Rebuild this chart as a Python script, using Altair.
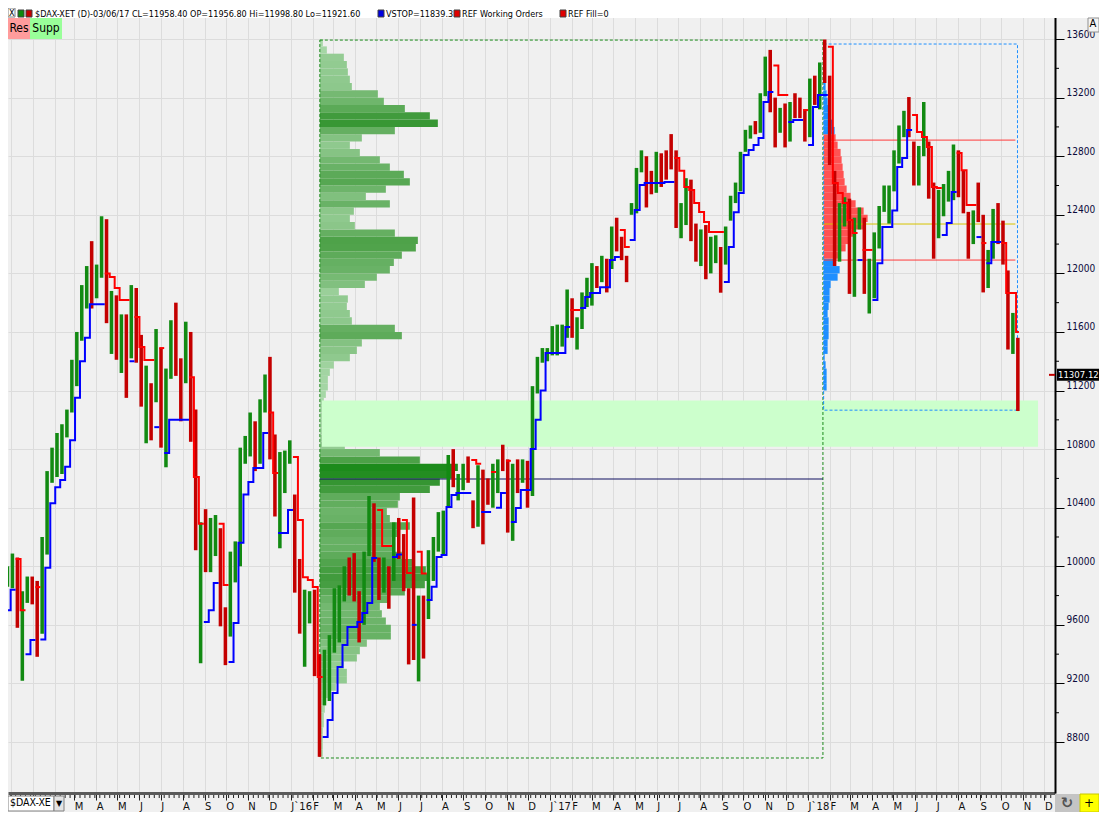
import altair as alt
import pandas as pd

# ---------------- weekly DAX bars (one entry per week, Friday dates) ----------------
FIRST_WEEK = "2014-11-28"
FIRST_OPEN = 9950
HIGH = [
    10000, 10087, 10060, 9830, 9930, 9930, 9900, 10200, 10650, 10810,
    10910, 10970, 11070, 11410, 11600, 11920, 12050, 12220, 12060, 12390,
    12370, 11880, 11850, 11720, 11720, 11920, 11900, 11580, 11370, 11250,
    11620, 11490, 11350, 11680, 11800, 11420, 11670, 11600, 11070, 10300,
    10390, 10330, 10350, 10260, 9720, 10100, 10170, 10810, 10890, 11050,
    10990, 11140, 11310, 11430, 10900, 10780, 10790, 10860,
    10490, 10050, 9840, 9830, 9840, 9400, 9430, 9530, 9850, 9870,
    10000, 10060, 10090, 9830, 10100, 10480, 10430, 10060, 10060, 10000,
    10300, 10330, 10220, 9850, 10470, 9800, 9800, 10110, 10200, 10370,
    10380, 10760, 10800, 10630, 10700, 10750, 10450, 10690, 10660, 10600,
    10700, 10730, 10830, 10730, 10700, 10730, 10730, 10720, 11230, 11430,
    11490, 11490,
    11640, 11650, 11650, 11890, 11830, 11700, 11870, 11970, 12070, 12050,
    12120, 12100, 12320, 12380, 12250, 12120, 12480, 12720, 12840, 12800,
    12700, 12830, 12820, 12840, 12951, 12840, 12480, 12650, 12640, 12340,
    12300, 12330, 12250, 12260, 12180, 12320, 12530, 12620, 12830, 12980,
    13010, 13040, 13230, 13480, 13526, 13200, 13130, 13160, 13170, 13230,
    13200, 13120,
    13330, 13350, 13440, 13597, 13350, 12700, 12480, 12520, 12510, 12380,
    12450, 12380, 12100, 12280, 12460, 12600, 12600, 12840, 13010, 13110,
    13204, 12900, 12870, 13170, 12900, 12620, 12570, 12610, 12700, 12880,
    12840, 12700, 12420, 12430, 12620, 12400, 12160, 12440, 12480, 12360,
    12020, 11730, 11560,
]
LOW = [
    9860, 9850, 9580, 9219, 9750, 9740, 9382, 9540, 10080, 10570,
    10610, 10630, 10880, 11050, 11230, 11540, 11760, 11760, 11830, 11970,
    11660, 11450, 11410, 11320, 11150, 11420, 11390, 11090, 10840, 10860,
    11120, 10810, 10676, 11280, 11300, 10990, 11250, 10850, 10110, 9338,
    9960, 9960, 10070, 9590, 9325, 9520, 9890, 10000, 10700, 10750,
    10650, 10700, 11050, 10730, 10340, 10123, 10500, 10700,
    9820, 9540, 9314, 9610, 9250, 8699, 9050, 9080, 9410, 9480,
    9760, 9800, 9760, 9480, 9600, 10070, 10030, 9770, 9820, 9710,
    9900, 10050, 9830, 9330, 9360, 9214, 9370, 9640, 9900, 10100,
    10080, 10400, 10540, 10450, 10520, 10570, 10260, 10270, 10150, 10420,
    10400, 10500, 10650, 10230, 10174, 10500, 10570, 10400, 10480, 11180,
    11390, 11400,
    11440, 11440, 11500, 11560, 11560, 11480, 11620, 11770, 11780, 11900,
    11940, 11870, 12030, 12150, 12090, 11940, 12400, 12410, 12690, 12450,
    12540, 12550, 12590, 12640, 12710, 12310, 12240, 12330, 12220, 12080,
    12050, 11960, 12000, 12070, 11868, 12060, 12360, 12480, 12560, 12830,
    12920, 12950, 12960, 13210, 13100, 12860, 12960, 12860, 12900, 13060,
    13060, 12900,
    12930, 13150, 13120, 13300, 12740, 12050, 12080, 12320, 11860, 11840,
    12300, 11860, 11726, 11830, 12170, 12420, 12340, 12560, 12750, 12930,
    12930, 12600, 12600, 12800, 12510, 12100, 12240, 12390, 12490, 12500,
    12520, 12410, 12100, 12200, 12350, 11870, 11900, 12100, 12200, 12060,
    11480, 11450, 11060,
]
CLOSE = [
    9980, 10087, 9594, 9787, 9922, 9765, 9648, 10167, 10649, 10694,
    10846, 10963, 11050, 11401, 11550, 11901, 12039, 11868, 12001, 12375,
    11688, 11811, 11454, 11709, 11447, 11815, 11413, 11197, 11197, 11040,
    11492, 11058, 11315, 11673, 11347, 11308, 11490, 10985, 10124, 10298,
    10038, 10123, 10229, 9688, 9553, 10096, 10104, 10795, 10850, 10988,
    10708, 11119, 11293, 10752, 10340, 10608, 10727, 10743,
    9849, 9545, 9764, 9798, 9286, 8967, 9388, 9513, 9824, 9831,
    9950, 9851, 9794, 9622, 10051, 10373, 10039, 9870, 9952, 9916,
    10287, 10103, 9834, 9631, 9557, 9776, 9629, 10066, 10147, 10337,
    10367, 10713, 10544, 10587, 10684, 10573, 10276, 10627, 10511, 10490,
    10580, 10711, 10696, 10259, 10668, 10664, 10700, 10513, 11203, 11404,
    11450, 11481,
    11599, 11629, 11630, 11814, 11651, 11666, 11757, 11804, 12027, 11963,
    12095, 12064, 12313, 12225, 12109, 12049, 12438, 12717, 12770, 12638,
    12602, 12823, 12815, 12752, 12733, 12325, 12389, 12631, 12240, 12162,
    12297, 12014, 12165, 12168, 12142, 12304, 12519, 12592, 12829, 12956,
    12992, 12991, 13218, 13479, 13127, 12994, 13060, 12862, 13153, 13104,
    13073, 12918,
    13320, 13245, 13434, 13340, 12785, 12107, 12452, 12483, 11914, 12346,
    12390, 11886, 12097, 12241, 12442, 12540, 12581, 12820, 13001, 13078,
    12938, 12724, 12767, 13011, 12580, 12306, 12496, 12541, 12562, 12860,
    12616, 12425, 12211, 12395, 12364, 11960, 12124, 12431, 12247, 12112,
    11524, 11554, 11307,
]
VSTOP = [
    9700, 9840, 10050, 9700, 9400, 9496, 9858, 9500, 9990, 10430,
    10540, 10590, 10680, 10860, 11150, 11400, 11560, 11790, 11790, 11790,
    12000, 11975, 11900, 11818, 11818, 11400, 11702, 11497, 11408, 11408,
    10950, 11490, 10773, 11000, 11000, 11000, 11000, 11290, 10610, 10290,
    9620, 9700, 9886, 10290, 9872, 9346, 9613, 10160, 10490, 10575,
    10671, 10671, 10910, 11050, 10637, 10227, 10227, 10384, 10746, 10316,
    9926, 9906, 9858, 9244, 8834, 8950, 9134, 9312, 9462, 9585,
    9585, 9619, 9681, 9749, 10057, 10384, 10139, 10139, 10064, 10080,
    10316, 9954, 9600, 10100, 9950, 9770, 9860, 10064, 10077, 10405,
    10487, 10500, 10500, 10500, 10725, 10700, 10370, 10371, 10644, 10400,
    10500, 10720, 10302, 10398, 10521, 10521, 10800, 11000, 11200, 11456,
    11456, 11456, 11456, 11634, 11750, 11750, 11763, 11838, 11866, 11866,
    11906, 11906, 12091, 12112, 12296, 12180, 12228, 12432, 12603, 12617,
    12617, 12617, 12617, 12624, 12624, 12787, 12700, 12590, 12570, 12480,
    12419, 12350, 12282, 12282, 12282, 11941, 12180, 12418, 12549, 12808,
    12842, 12876, 12924, 13170, 13238, 13420, 13218, 13218, 13033, 13047,
    13047, 13115, 12876, 13136, 13218, 13218, 13547, 12617, 12548, 12480,
    12364, 12275, 12091, 12160, 12160, 11818, 12070, 12316, 12316, 12430,
    12726, 12787, 12979, 13081, 12965, 12931, 12863, 12590, 12583, 12262,
    12344, 12556, 12822, 12705, 12467, 12467, 12248, 12207, 12070, 12214,
    12214, 12207, 11866, 11866, 11600,
]
# U = stop below price (blue), D = stop above price (red)
VSTOP_TREND = ("UU DD UU D UUUUUUUUUUUUU DDDDD U DDDD U D UUUUU DDD UUU DD UUUUUUUU DD UUU "
               "DDDDDD UUUUUUUUUUU DDD UU DD U DD UUUUUUUUU DD UU D UU D UUUUUUUUUUUU DD "
               "UUUUUUUU DD UUUUUUUUU DDDDDDDDDD UUUUUUUUUU DDD UUU D UUUU DDDDDD U DD "
               "UUUUUUUU DDDDDD UUU DDDD U D UUU DDDD")

# ---------------- volume profiles (relative volume per 50-point price bin) ----------------
PROFILE_BIN = 50
GREEN_BASE = 8700
GREEN_VOL = [
    3, 3, 3, 3, 4, 4, 5, 5, 8, 16,
    27, 27, 24, 37, 40, 47, 71, 71, 66, 62,
    60, 70, 85, 105, 110, 106, 95, 82, 74, 72,
    80, 90, 70, 67, 78, 80, 110, 120, 134, 138,
    100, 60, 25, 15, 6, 4, 4, 4, 4, 6,
    8, 8, 10, 14, 30, 37, 42, 82, 75, 32,
    30, 27, 28, 19, 45, 57, 70, 74, 82, 96,
    98, 75, 35, 30, 34, 70, 46, 66, 90, 84,
    70, 60, 40, 30, 42, 75, 118, 110, 85, 64,
    58, 32, 30, 28, 27, 24, 7, 3,
]
RIGHT_BASE = 11200
RIGHT_VOL = [
    3, 3, 3, 2, 1, 4, 4, 5, 5, 5,
    4, 5, 6, 6, 7, 14, 16, 12, 16, 22,
    27, 32, 40, 44, 40, 32, 27, 23, 21, 20,
    19, 18, 17, 14, 12, 11, 9, 7, 5, 4,
    3, 2, 2, 1,
]

# ---------------- reference levels / zones ----------------
VA_HIGH, VA_LOW, POC_RIGHT = 12910, 12091, 12337
POC_LEFT = 10596
ZONE_LOW, ZONE_HIGH = 10817, 11132
BOX1_START, BOX1_END, BOX1_LOW, BOX1_HIGH = "2016-02-11", "2018-01-22", 8691, 13593
BOX2_START, BOX2_END, BOX2_LOW, BOX2_HIGH = "2018-01-23", "2018-10-24", 11066, 13566
ZONE_START, ZONE_END = "2016-02-14", "2018-11-22"
LINES_END = "2018-10-21"
LAST_PRICE = 11307.12
Y_TICKS = [8800, 9200, 9600, 10000, 10400, 10800, 11200, 11600, 12000, 12400, 12800, 13200, 13600]
Y_MINOR = [9000, 9400, 9800, 10200, 10600, 11000, 11400, 11800, 12200, 12600, 13000, 13400]

# ---------------- layout ----------------
W, H = 1047, 785
X0 = pd.Timestamp("2014-11-27 06:00")
X1 = pd.Timestamp("2018-12-16 00:00")
X_SCALE = alt.Scale(domain=[alt.DateTime(year=2014, month=11, date=27, hours=6),
                            alt.DateTime(year=2018, month=12, date=16)])
Y_SCALE = alt.Scale(domain=[8452, 13812], nice=False, zero=False)
GREEN, RED = "#128a12", "#c40000"


def px(ts):
    return (pd.Timestamp(ts) - X0) / (X1 - X0) * W


n = min(len(HIGH), len(LOW), len(CLOSE), len(VSTOP))
fridays = pd.date_range(FIRST_WEEK, periods=n, freq="W-FRI")
opens = [FIRST_OPEN] + CLOSE[: n - 1]
bar_df = pd.DataFrame({
    "start": fridays - pd.Timedelta(days=4),
    "end": fridays + pd.Timedelta(days=1),
    "high": HIGH[:n], "low": LOW[:n],
    "dir": ["up" if c >= o else "down" for c, o in zip(CLOSE[:n], opens)],
})

trend = list(VSTOP_TREND.replace(" ", ""))
trend = (trend + [trend[-1]] * n)[:n]
rows, seg = [], 0
for i in range(n):
    if i > 0 and trend[i] != trend[i - 1]:
        seg += 1
    mon = fridays[i] - pd.Timedelta(days=4)
    rows.append({"t": mon, "v": VSTOP[i], "trend": trend[i], "seg": seg})
    if i == n - 1 or trend[i + 1] != trend[i]:
        end = mon + pd.Timedelta(days=7 if i < n - 1 else 4)
        rows.append({"t": end, "v": VSTOP[i], "trend": trend[i], "seg": seg})
vstop_df = pd.DataFrame(rows)

gdf = pd.DataFrame({
    "plo": [GREEN_BASE + i * PROFILE_BIN for i in range(len(GREEN_VOL))],
    "phi": [GREEN_BASE + (i + 1) * PROFILE_BIN for i in range(len(GREEN_VOL))],
    "vol": GREEN_VOL, "base": 0,
})
rdf = pd.DataFrame({
    "plo": [RIGHT_BASE + i * PROFILE_BIN for i in range(len(RIGHT_VOL))],
    "phi": [RIGHT_BASE + (i + 1) * PROFILE_BIN for i in range(len(RIGHT_VOL))],
    "vol": RIGHT_VOL, "base": 0,
})
rdf["area"] = ["in" if VA_LOW <= p < VA_HIGH else "out" for p in rdf["plo"]]

ga = px(BOX1_START)
ra = px(BOX2_START)

x_axis = alt.Axis(
    orient="bottom", tickCount={"interval": "month", "step": 1},
    labelExpr="datum.value < datetime(2015, 1, 15) ? '' : (month(datum.value) == 0 ? 'J`' + "
              "timeFormat(datum.value, '%y') : substring(timeFormat(datum.value, '%b'), 0, 1))",
    grid=True, gridColor="#dcdcdc", gridWidth=1,
    domainColor="#5a5a5a", domainWidth=3, tickColor="#222222", tickSize=7,
    labelFont="DejaVu Sans", labelFontSize=10, labelColor="#111111",
    labelAlign="left", labelPadding=1, labelOverlap=False, labelFlush=False,
    labelBound=False, title=None, zindex=0,
)
y_axis = alt.Axis(
    orient="right", values=Y_TICKS, format="d", grid=True, gridColor="#dcdcdc", gridWidth=1,
    domainColor="#000000", domainWidth=2, tickColor="#000000", tickSize=9,
    labelPadding=2, labelFont="DejaVu Sans Condensed", labelFontSize=10, labelColor="#0a0a3a",
    labelBaseline="bottom", labelOverlap=False, title=None, zindex=0,
)

# ---------------- layers ----------------
axes_layer = alt.Chart(pd.DataFrame({"t": [BOX1_START], "p": [POC_LEFT]})).mark_point(opacity=0).encode(
    x=alt.X("t:T", scale=X_SCALE, axis=x_axis),
    y=alt.Y("p:Q", scale=Y_SCALE, axis=y_axis))

green_profile = alt.Chart(gdf).mark_rect(clip=True).encode(
    x=alt.X("base:Q", scale=alt.Scale(domain=[-ga, W - ga], nice=False, zero=False), axis=None),
    x2="vol:Q",
    y=alt.Y("plo:Q", scale=Y_SCALE, axis=None), y2="phi:Q",
    color=alt.Color("vol:Q", scale=alt.Scale(domain=[0, 140], range=["#acdaac", "#188a18"]), legend=None),
)

single = pd.DataFrame({"a": [0]})

zone = alt.Chart(pd.DataFrame({"s": [ZONE_START], "e": [ZONE_END], "lo": [ZONE_LOW], "hi": [ZONE_HIGH]})).mark_rect(
    color="#ccffcc").encode(
    x=alt.X("s:T", scale=X_SCALE, axis=None), x2="e:T",
    y=alt.Y("lo:Q", scale=Y_SCALE, axis=None), y2="hi:Q")

box1 = alt.Chart(pd.DataFrame({"s": [BOX1_START], "e": [BOX1_END], "lo": [BOX1_LOW], "hi": [BOX1_HIGH]})).mark_rect(
    fillOpacity=0, stroke="#1a8a1a", strokeWidth=1, strokeDash=[3, 2]).encode(
    x=alt.X("s:T", scale=X_SCALE, axis=None), x2="e:T",
    y=alt.Y("lo:Q", scale=Y_SCALE, axis=None), y2="hi:Q")

poc_left = alt.Chart(pd.DataFrame({"s": [BOX1_START], "e": [BOX1_END], "p": [POC_LEFT]})).mark_rule(
    color="#101060", strokeWidth=1).encode(
    x=alt.X("s:T", scale=X_SCALE, axis=None), x2="e:T", y=alt.Y("p:Q", scale=Y_SCALE, axis=None))

right_profile = alt.Chart(rdf).mark_rect(clip=True).encode(
    x=alt.X("base:Q", scale=alt.Scale(domain=[-ra, W - ra], nice=False, zero=False), axis=None),
    x2="vol:Q",
    y=alt.Y("plo:Q", scale=Y_SCALE, axis=None), y2="phi:Q",
    color=alt.Color("area:N", scale=alt.Scale(domain=["in", "out"], range=["#ff5252", "#1e8fff"]), legend=None),
)

lv = pd.DataFrame({"s": [BOX2_START] * 3, "e": [LINES_END] * 3, "p": [VA_HIGH, VA_LOW, POC_RIGHT],
                   "k": ["hi", "lo", "poc"]})
level_lines = alt.Chart(lv).mark_rule(strokeWidth=1).encode(
    x=alt.X("s:T", scale=X_SCALE, axis=None), x2="e:T", y=alt.Y("p:Q", scale=Y_SCALE, axis=None),
    color=alt.Color("k:N", scale=alt.Scale(domain=["hi", "lo", "poc"], range=["#ff3b3b", "#ff3b3b", "#d6c400"]),
                    legend=None))

box2 = alt.Chart(pd.DataFrame({"s": [BOX2_START], "e": [BOX2_END], "lo": [BOX2_LOW], "hi": [BOX2_HIGH]})).mark_rect(
    fillOpacity=0, stroke="#1e8fff", strokeWidth=1, strokeDash=[3, 2]).encode(
    x=alt.X("s:T", scale=X_SCALE, axis=None), x2="e:T",
    y=alt.Y("lo:Q", scale=Y_SCALE, axis=None), y2="hi:Q")

bars = alt.Chart(bar_df).mark_rect(clip=True).encode(
    x=alt.X("start:T", scale=X_SCALE, axis=None), x2="end:T",
    y=alt.Y("low:Q", scale=Y_SCALE, axis=None), y2="high:Q",
    color=alt.Color("dir:N", scale=alt.Scale(domain=["up", "down"], range=[GREEN, RED]), legend=None))

vstop = alt.Chart(vstop_df).mark_line(interpolate="step-after", strokeWidth=2, clip=True).encode(
    x=alt.X("t:T", scale=X_SCALE, axis=None),
    y=alt.Y("v:Q", scale=Y_SCALE, axis=None),
    color=alt.Color("trend:N", scale=alt.Scale(domain=["U", "D"], range=["#0000ff", "#ff0000"]), legend=None),
    detail="seg:N")

# ruler ticks along the time axis
week_ticks = pd.DataFrame({"t": pd.date_range("2014-12-01", "2018-12-10", freq="W-MON")})
ruler = alt.Chart(week_ticks).mark_rule(color="#222222", strokeWidth=1).encode(
    x=alt.X("t:T", scale=X_SCALE, axis=None), y=alt.value(H + 2), y2=alt.value(H + 5))

minor_y = alt.Chart(pd.DataFrame({"p": Y_MINOR})).mark_rule(color="#000000").encode(
    y=alt.Y("p:Q", scale=Y_SCALE, axis=None), x=alt.value(W), x2=alt.value(W + 4))

# price tag at the right axis
tag_df = pd.DataFrame({"p": [LAST_PRICE], "label": [f"{LAST_PRICE:.2f}"]})
tag_bg = alt.Chart(tag_df).mark_rule(color="#000000", strokeWidth=12).encode(
    y=alt.Y("p:Q", scale=Y_SCALE, axis=None), x=alt.value(W + 2), x2=alt.value(W + 44))
tag_tick = alt.Chart(tag_df).mark_rule(color="#c00000", strokeWidth=2).encode(
    y=alt.Y("p:Q", scale=Y_SCALE, axis=None), x=alt.value(W - 6), x2=alt.value(W))
tag_text = alt.Chart(tag_df).mark_text(color="#ffffff", align="left", baseline="middle", fontSize=9.5,
                                       font="DejaVu Sans Condensed").encode(
    y=alt.Y("p:Q", scale=Y_SCALE, axis=None), x=alt.value(W + 3), text="label:N")


def box(x1, x2, y1, y2, fill, stroke=None):
    kw = {"fill": fill}
    if stroke:
        kw.update(stroke=stroke, strokeWidth=1)
    return alt.Chart(single).mark_rect(**kw).encode(
        x=alt.value(x1), x2=alt.value(x2), y=alt.value(y1), y2=alt.value(y2))


def label(x, y, txt, size=9, color="#000000", align="left", font="DejaVu Sans Condensed",
          weight="normal"):
    return alt.Chart(single).mark_text(text=txt, align=align, baseline="middle", fontSize=size, color=color,
                                       font=font, fontWeight=weight).encode(x=alt.value(x), y=alt.value(y))


HEADER_ITEMS = [
    (27, "$DAX-XET (D)-03/06/17 CL=11958.40 OP=11956.80 Hi=11998.80 Lo=11921.60"),
    (378, "VSTOP=11839.3"),
    (454, "REF Working Orders"),
    (560, "REF Fill=0"),
]
HEADER_SQUARES = [(10, "#0c8a0c"), (18, "#c40000"), (370, "#0000e0"), (446, "#e00000"), (552, "#e00000")]

deco = [
    box(0, W + 44, 0, 10, "#ffffff"),
    box(0, 7, 0, 9, "#ffffff", "#808080"),
    label(1, 5, "X", size=9),
]
for x, c in HEADER_SQUARES:
    deco.append(box(x, x + 6, 2, 9, c, "#404040"))
for x, t in HEADER_ITEMS:
    deco.append(label(x, 5.5, t))
deco += [
    box(0, 22, 10, 31, "#ff9c9c"),
    box(22, 54, 10, 31, "#99ff99"),
    label(11, 20, "Res", size=12, align="center"),
    label(38, 20, "Supp", size=12, align="center"),
    box(W + 33, W + 44, 10, 24, "#f4f4f4", "#909090"),
    label(W + 38, 16, "A", size=10, align="center", font="DejaVu Sans"),
    box(0, 46, H + 3, H + 18, "#ffffff", "#808080"),
    label(2, H + 10, "$DAX-XE", size=10.5),
    box(46, 56, H + 3, H + 18, "#e4e4e4", "#808080"),
    label(51, H + 11, "▼", size=8, align="center", font="DejaVu Sans"),
    box(W, W + 25, H + 1, H + 19, "#c4c4c4"),
    label(W + 12, H + 10, "↻", size=15, align="center", color="#555555", font="DejaVu Sans", weight="bold"),
    box(W + 25, W + 44, H + 1, H + 19, "#ffff00", "#c8c800"),
    label(W + 34, H + 10, "+", size=12, align="center", font="DejaVu Sans"),
]

layers = [axes_layer, green_profile, zone, box1, poc_left, right_profile, level_lines, box2, bars, vstop,
          ruler, minor_y, tag_tick, tag_bg, tag_text] + deco

chart = alt.layer(*layers).resolve_scale(x="independent", color="independent").resolve_axis(
    x="independent", y="independent").properties(
    width=W, height=H,
    padding={"left": 0, "top": 0, "right": 44, "bottom": 19},
    autosize=alt.AutoSizeParams(type="none"),
    background="#f0f0f0",
).configure_view(fill="#f0f0f0", stroke=None)

chart.save("out.html", embed_options={"renderer": "svg", "actions": False})
